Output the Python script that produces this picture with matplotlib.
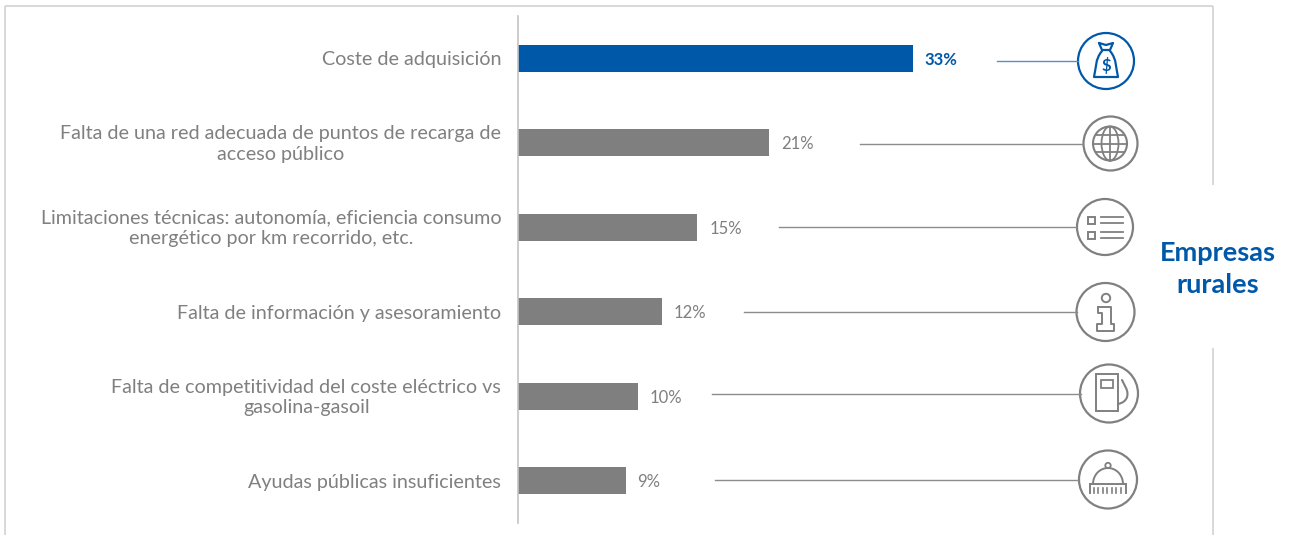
import matplotlib
matplotlib.use('Agg')
import matplotlib.pyplot as plt
from matplotlib.patches import Circle, Rectangle, Arc, Ellipse
from matplotlib.path import Path
from matplotlib.patches import PathPatch
from matplotlib.transforms import ScaledTranslation

categories = ['Coste de adquisición',
              'Falta de una red adecuada de puntos de recarga de\nacceso público',
              'Limitaciones técnicas: autonomía, eficiencia consumo\nenergético por km recorrido, etc.',
              'Falta de información y asesoramiento',
              'Falta de competitividad del coste eléctrico vs\ngasolina-gasoil',
              'Ayudas públicas insuficientes']
values = [33, 21, 15, 12, 10, 9]
value_labels = ['33%', '21%', '15%', '12%', '10%', '9%']

blue = '#0058a9'
grey = '#7f7f7f'
icon_grey = '#808080'
frame_color = '#d2d2d2'
W, H = 1290, 535

fig = plt.figure(figsize=(W / 100, H / 100), dpi=100)

# overlay in pixel coords for frame, connectors and icons
ov = fig.add_axes([0, 0, 1, 1])
ov.set_xlim(0, W)
ov.set_ylim(H, 0)
ov.axis('off')

ax = fig.add_axes([518 / W, 1 - 523 / H, 600 / W, 507 / H])
ax.patch.set_alpha(0)
colors = [blue] + [grey] * 5
ax.barh(range(6), values, height=0.315, color=colors)
ax.set_xlim(0, 50.15)
ax.set_ylim(5.5, -0.5)
ax.set_xticks([])
ax.set_yticks(range(6))
ax.set_yticklabels(categories, fontsize=14.2, color='#808080', family='Lato',
                   multialignment='center', linespacing=1.26)
ax.tick_params(axis='y', length=0, pad=12)
# two-line labels sit a little higher than the bar centre
up = ScaledTranslation(0, 2 / 100, fig.dpi_scale_trans)
for lab in ax.get_yticklabels():
    if '\n' in lab.get_text():
        lab.set_transform(lab.get_transform() + up)
for s in ['top', 'right', 'bottom']:
    ax.spines[s].set_visible(False)
ax.spines['left'].set_color('#c4c4c4')
ax.spines['left'].set_linewidth(1.2)

for i, v in enumerate(values):
    ax.annotate(value_labels[i], (v, i), xytext=(8.5, -1), textcoords='offset points',
                va='center', ha='left', fontsize=12, family='Lato',
                color=blue if i == 0 else '#7f7f7f',
                fontweight='bold' if i == 0 else 'normal')

# frame, broken around the "Empresas rurales" note
for xs, ys in [([5, 5], [535, 6]), ([5, 1213], [6, 6]), ([1213, 1213], [6, 185]),
               ([1213, 1213], [348, 535])]:
    ov.plot(xs, ys, color=frame_color, lw=1.2, solid_capstyle='butt')

ov.text(1218, 253, 'Empresas', color=blue, fontsize=19.5, fontweight='bold',
        family='Lato', ha='center', va='center')
ov.text(1218, 285, 'rurales', color=blue, fontsize=19.5, fontweight='bold',
        family='Lato', ha='center', va='center')

# connectors
conn_x0 = [997, 860, 779, 744, 712, 715]
conn_x1 = [1078, 1083, 1076, 1077, 1081, 1078]
conn_y = [61, 143.5, 227, 312, 394, 480]
for i in range(6):
    ov.plot([conn_x0[i], conn_x1[i]], [conn_y[i], conn_y[i]], lw=1,
            color='#5b8fc4' if i == 0 else '#8c8c8c')

# icon rings
ring_x = [1106, 1110.5, 1105, 1105.5, 1109, 1108]
ring_y = [61, 143.5, 227, 312, 393.5, 479.5]
ring_r = [28, 27, 28, 29, 29, 29]
for i in range(6):
    ov.add_patch(Circle((ring_x[i], ring_y[i]), ring_r[i], fill=False, lw=1.6,
                        ec=blue if i == 0 else icon_grey))


def outline(pts, codes=None, c=icon_grey, lw=1.3):
    ov.add_patch(PathPatch(Path(pts, codes), fill=False, ec=c, lw=lw,
                           capstyle='round', joinstyle='round'))


# money bag
C4 = Path.CURVE4
outline([(1099, 43), (1106, 45), (1113, 43), (1110, 50), (1102, 50), (1099, 43)], c=blue, lw=1.6)
outline([(1102, 51), (1095, 59), (1096, 69), (1094, 77), (1118, 77), (1116, 69), (1117, 59), (1110, 51)],
        [Path.MOVETO, C4, C4, C4, Path.LINETO, C4, C4, C4], c=blue, lw=1.6)
ov.text(1106, 65, '$', color=blue, fontsize=12, fontweight='bold', family='Lato',
        ha='center', va='center')

# globe
ov.add_patch(Circle((1110, 143.5), 17, fill=False, ec=icon_grey, lw=1.5))
ov.add_patch(Ellipse((1110, 143.5), 17, 34, fill=False, ec=icon_grey, lw=1.3))
ov.plot([1110, 1110], [126.5, 160.5], color=icon_grey, lw=1.3)
ov.plot([1093, 1127], [143.5, 143.5], color=icon_grey, lw=1.3)
ov.plot([1096, 1124], [135, 135], color=icon_grey, lw=1.3)
ov.plot([1096, 1124], [152, 152], color=icon_grey, lw=1.3)

# list
for y in [220, 235]:
    ov.add_patch(Rectangle((1088, y - 3), 7, 6.5, fill=False, ec=icon_grey, lw=1.4))
for y in [216.5, 223, 232, 238]:
    ov.plot([1101, 1123], [y, y], color=icon_grey, lw=1.3)

# info
ov.add_patch(Circle((1106, 298), 4.2, fill=False, ec=icon_grey, lw=1.4))
outline([(1098, 307), (1111, 307), (1111, 324), (1114, 324), (1114, 331), (1097, 331),
         (1097, 324), (1102, 324), (1102, 313), (1098, 313), (1098, 307)], lw=1.4)

# pump
ov.add_patch(Rectangle((1096, 374), 22, 37, fill=False, ec=icon_grey, lw=1.4))
ov.add_patch(Rectangle((1101, 380), 12, 8, fill=False, ec=icon_grey, lw=1.3))
outline([(1118, 404), (1128, 402), (1129, 394), (1126, 388), (1122, 380)],
        [Path.MOVETO, C4, C4, C4, Path.LINETO], lw=1.5)

# dome
ov.add_patch(Arc((1108, 484), 30, 32, theta1=180, theta2=360, ec=icon_grey, lw=1.4))
ov.add_patch(Circle((1108, 465.5), 2.7, fill=False, ec=icon_grey, lw=1.3))
ov.plot([1090, 1126], [484, 484], color=icon_grey, lw=1.4)
ov.plot([1090, 1090], [484, 493], color=icon_grey, lw=1.4)
ov.plot([1126, 1126], [484, 493], color=icon_grey, lw=1.4)
for x in [1093.5, 1098, 1102.5, 1107, 1111.5, 1116, 1120.5]:
    ov.plot([x, x], [488, 493], color=icon_grey, lw=1.2)

fig.savefig('out.png', dpi=100)
plt.close('all')
